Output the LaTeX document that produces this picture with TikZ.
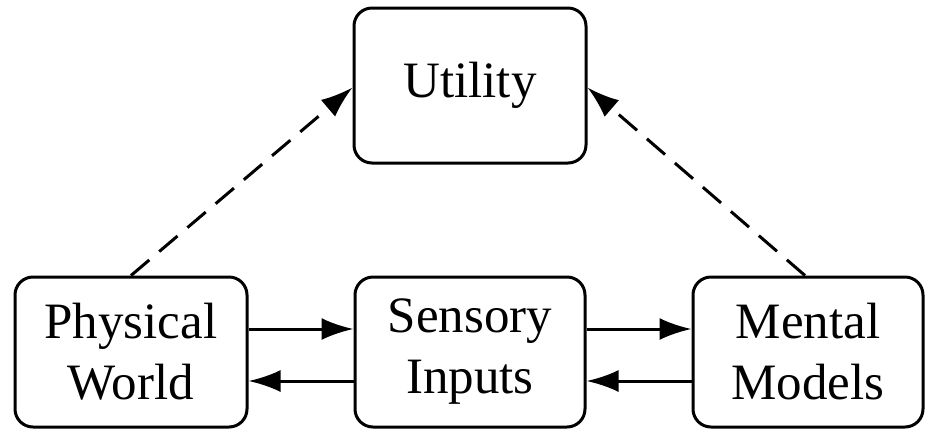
\documentclass[tikz,border=0pt]{standalone}
\usepackage{fontspec}
\setmainfont{Liberation Serif}
\usetikzlibrary{arrows.meta}

\begin{document}
\begin{tikzpicture}[x=0.5pt, y=-0.5pt, font=\fontsize{25.5}{30.5}\selectfont,
  box/.style={draw,rounded corners=9pt,line width=1.5pt,align=center,
    minimum width=115pt,minimum height=75pt,inner sep=0pt},
  arr/.style={-{Latex[length=16pt,width=11pt]},line width=1.5pt},
  dsh/.style={arr,dash pattern=on 12pt off 6.5pt}]
\useasboundingbox (0,0) rectangle (928,430);
\node[box,minimum width=116pt,minimum height=77.5pt] (ut) at (470,85.5) {Utility};
\node[box,minimum width=116pt] (pw) at (131,352) {Physical\\World};
\node[box] (si) at (470,352) {Sensory\\Inputs};
\node[box] (mm) at (808,352) {Mental\\Models};
% forward and backward flows
\draw[arr] ([yshift=11.5pt]pw.east) -- ([yshift=11.5pt]si.west);
\draw[arr] ([yshift=-14.5pt]si.west) -- ([yshift=-14.5pt]pw.east);
\draw[arr] ([yshift=11.5pt]si.east) -- ([yshift=11.5pt]mm.west);
\draw[arr] ([yshift=-14.5pt]mm.west) -- ([yshift=-14.5pt]si.east);
% utility
\draw[dsh] (pw.north) -- ([yshift=-1pt]ut.west);
\draw[dsh] ([xshift=-1.5pt]mm.north) -- ([yshift=-1pt]ut.east);
\end{tikzpicture}
\end{document}
